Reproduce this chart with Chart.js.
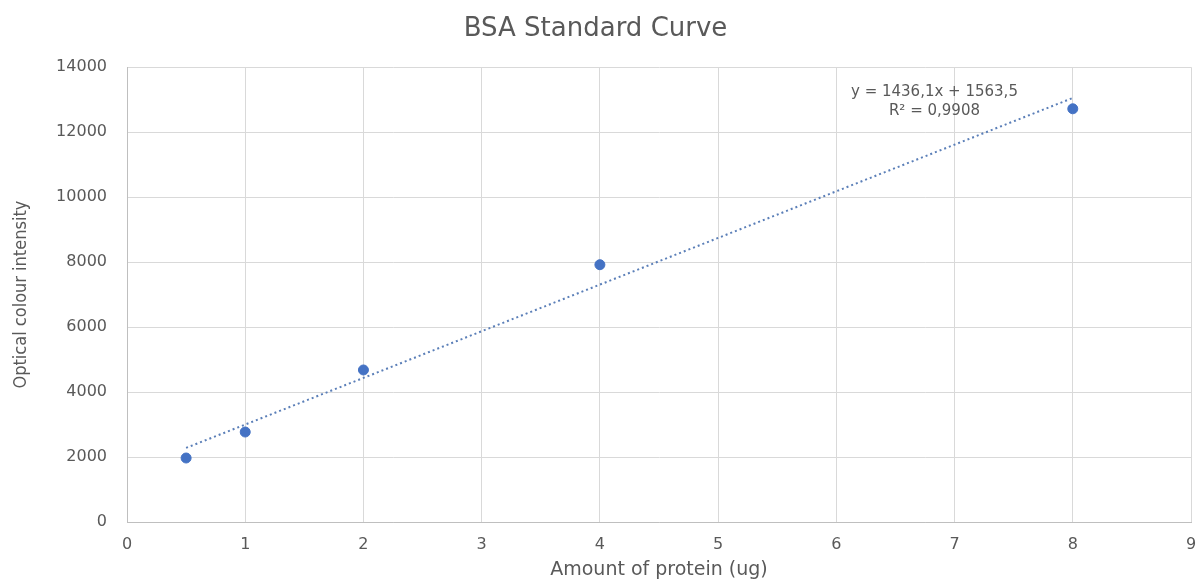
<!DOCTYPE html>
<html>
<head>
<meta charset="utf-8">
<script src="https://cdn.jsdelivr.net/npm/chart.js@4/dist/chart.umd.min.js"></script>
<style>
  html, body { margin: 0; padding: 0; background: #fff; }
  #wrap { width: 1199px; height: 580px; }
</style>
</head>
<body>
<div id="wrap"><canvas id="chart" width="1199" height="580"></canvas></div>
<script>
// measured standards (amount of protein in ug vs optical intensity)
const proteinAmounts = [0.5, 1, 2, 4, 8];
const intensities = [1970, 2770, 4680, 7920, 12720];

// linear trendline as printed on the chart
const slope = 1436.1;
const intercept = 1563.5;
const rSquared = '0,9908';
const equationText = 'y = 1436,1x + 1563,5';

const xTicks = [0, 1, 2, 3, 4, 5, 6, 7, 8, 9];
const yTicks = [0, 2000, 4000, 6000, 8000, 10000, 12000, 14000];

const trendX = [proteinAmounts[0], proteinAmounts[proteinAmounts.length - 1]];
const trendPoints = trendX.map(x => ({ x: x, y: slope * x + intercept }));

const greyText = '#595959';
const blue = '#4472c4';

// equation label, anchored in data units near the last point
const labelAnchor = { x: 6.83, y: 13230 };

const equationLabel = {
  id: 'equationLabel',
  afterDatasetsDraw(chart) {
    const { ctx, scales } = chart;
    const px = scales.x.getPixelForValue(labelAnchor.x);
    const py = scales.y.getPixelForValue(labelAnchor.y);
    ctx.save();
    ctx.font = '15px "DejaVu Sans"';
    ctx.fillStyle = greyText;
    ctx.textAlign = 'center';
    ctx.textBaseline = 'middle';
    ctx.fillText(equationText, px, py);
    ctx.fillText('R\u00b2 = ' + rSquared, px, py + 19);
    ctx.restore();
  }
};

new Chart(document.getElementById('chart'), {
  type: 'scatter',
  data: {
    datasets: [
      {
        label: 'Standards',
        data: proteinAmounts.map((x, i) => ({ x: x, y: intensities[i] })),
        backgroundColor: blue,
        borderColor: blue,
        pointRadius: 5,
        pointHoverRadius: 5,
        order: 1
      },
      {
        label: 'Linear trend',
        type: 'line',
        data: trendPoints,
        borderColor: '#5b7fb8',
        borderWidth: 2,
        borderDash: [2, 3],
        pointRadius: 0,
        fill: false,
        order: 2
      }
    ]
  },
  options: {
    responsive: false,
    animation: false,
    layout: { padding: { left: 0, right: 8, top: 0, bottom: 0 } },
    plugins: {
      legend: { display: false },
      tooltip: { enabled: false },
      title: {
        display: true,
        text: 'BSA Standard Curve',
        color: greyText,
        font: { family: 'DejaVu Sans', size: 26, weight: 'normal' },
        padding: { top: 14, bottom: 22 }
      }
    },
    scales: {
      x: {
        type: 'linear',
        min: 0,
        max: 9,
        afterBuildTicks: axis => { axis.ticks = xTicks.map(v => ({ value: v })); },
        afterFit: axis => {
          axis.height = 58;
          axis.paddingLeft = 0;
          axis.paddingRight = 0;
        },
        grid: { color: '#d9d9d9', drawTicks: false },
        border: { color: '#bfbfbf' },
        ticks: {
          color: greyText,
          padding: 13,
          font: { family: 'DejaVu Sans', size: 16 }
        },
        title: {
          display: true,
          text: 'Amount of protein (ug)',
          color: greyText,
          font: { family: 'DejaVu Sans', size: 19 },
          padding: { top: 0, bottom: -1 }
        }
      },
      y: {
        min: 0,
        max: 14000,
        afterBuildTicks: axis => { axis.ticks = yTicks.map(v => ({ value: v })); },
        afterFit: axis => { axis.width = 127; },
        grid: { color: '#d9d9d9', drawTicks: false },
        border: { color: '#bfbfbf' },
        ticks: {
          color: greyText,
          padding: 20,
          font: { family: 'DejaVu Sans', size: 16 },
          callback: v => String(v)
        },
        title: {
          display: true,
          text: 'Optical colour intensity',
          color: greyText,
          font: { family: '"DejaVu Sans Condensed", "Liberation Sans", sans-serif', size: 18 },
          padding: { top: 11, bottom: 0 }
        }
      }
    }
  },
  plugins: [equationLabel]
});
</script>
</body>
</html>
